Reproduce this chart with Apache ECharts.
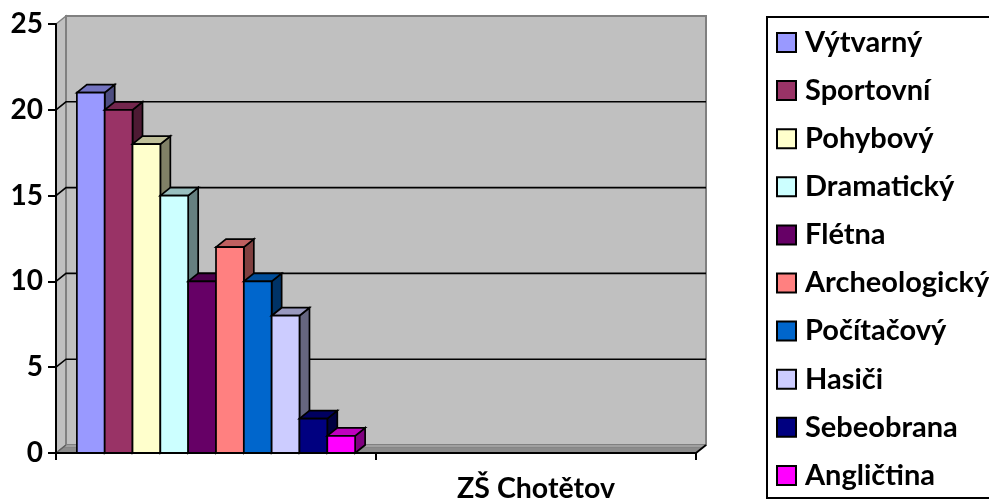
<!DOCTYPE html>
<html><head><meta charset="utf-8">
<style>html,body{margin:0;padding:0;background:#fff}#c{width:989px;height:500px}</style>
<script src="https://cdn.jsdelivr.net/npm/echarts@6/dist/echarts.min.js"></script>
</head><body><div id="c"></div>
<script>
const categories = ['', 'ZŠ Chotětov'];
const seriesNames = ['Výtvarný','Sportovní','Pohybový','Dramatický','Flétna','Archeologický','Počítačový','Hasiči','Sebeobrana','Angličtina'];
const seriesValues = [21,20,18,15,10,12,10,8,2,1];
const seriesColors = ['#9999FF','#993366','#FFFFCC','#CCFFFF','#660066','#FF8080','#0066CC','#CCCCFF','#000080','#FF00FF'];
const yTicks = [0,5,10,15,20,25];
const DX = 10, DY = -8, FONT = 'Lato';

function shade(hex, f){
  const n = parseInt(hex.slice(1),16);
  const c = [(n>>16)&255,(n>>8)&255,n&255].map(v=>Math.round(v*f));
  return 'rgb('+c.join(',')+')';
}
function poly(points, fill, stroke, lw){
  return {type:'polygon', shape:{points}, style:{fill, stroke, lineWidth:lw, lineJoin:'miter'}};
}
function wallItem(params, api){
  const cs = params.coordSys;
  const x0 = cs.x, x1 = cs.x + cs.width;
  const yb = cs.y + cs.height, yt = cs.y;
  const children = [
    poly([[x0,yb],[x0+DX,yb+DY],[x0+DX,yt+DY],[x0,yt]], '#C0C0C0', '#808080', 1.5),
    poly([[x0+DX,yb+DY],[x1+DX,yb+DY],[x1+DX,yt+DY],[x0+DX,yt+DY]], '#C0C0C0', '#808080', 2),
    poly([[x0,yb],[x1,yb],[x1+DX,yb+DY],[x0+DX,yb+DY]], '#8C8C8C', '#808080', 1),
    poly([[x0+DX-2,yb+DY+2],[x1+DX-2,yb+DY+2],[x1+DX,yb+DY],[x0+DX,yb+DY]], '#C0C0C0', '#808080', 1)
  ];
  yTicks.forEach(t=>{
    if(t===0||t===25) return;
    const y = api.coord([0,t])[1];
    children.push({type:'polyline', shape:{points:[[x0,y],[x0+DX,y+DY],[x1+DX,y+DY]]}, style:{fill:null, stroke:'#000', lineWidth:1.6}});
  });
  children.push({type:'line', shape:{x1:x1,y1:yb,x2:x1+DX,y2:yb+DY}, style:{stroke:'#000',lineWidth:1.8}});
  children.push({type:'line', shape:{x1:x0,y1:yb,x2:x0+DX,y2:yb+DY}, style:{stroke:'#606060',lineWidth:1.5}});
  return {type:'group', children};
}
function barItem(idx){
  return function(params, api){
    const v = api.value(1);
    if(v==null||isNaN(v)) return null;
    const center = api.coord([api.value(0),0]);
    const top = api.coord([api.value(0),v]);
    const band = api.size([1,0])[0];
    const w = band/11.5;
    const xl = center[0] - 5*w + idx*w;
    const xr = xl + w;
    const yb = center[1], yt = top[1];
    const col = seriesColors[idx];
    const lw = 1.7;
    return {type:'group', children:[
      poly([[xr,yb],[xr+DX,yb+DY],[xr+DX,yt+DY],[xr,yt]], shade(col,0.5), '#000', lw),
      poly([[xl,yt],[xr,yt],[xr+DX,yt+DY],[xl+DX,yt+DY]], shade(col,0.75), '#000', lw),
      poly([[xl,yb],[xr,yb],[xr,yt],[xl,yt]], col, '#000', lw)
    ]};
  };
}
const series = [{
  name:'walls', type:'custom', silent:true, z:1,
  data:[[0,0]], renderItem:wallItem
}];
seriesNames.forEach((name,i)=>{
  series.push({
    name, type:'custom', z:3+i, silent:true,
    itemStyle:{color:seriesColors[i], borderColor:'#000', borderWidth:2},
    encode:{x:0,y:1},
    data:[[0,seriesValues[i]]],
    renderItem:barItem(i)
  });
});
const chart = echarts.init(document.getElementById('c'), null, {renderer:'canvas'});
chart.setOption({
  animation:false,
  backgroundColor:'#fff',
  textStyle:{fontFamily:FONT},
  grid:{left:56, right:293, top:24, bottom:47, containLabel:false, outerBoundsMode:'none'},
  xAxis:{type:'category', data:categories, z:20,
    axisLine:{onZero:false,lineStyle:{color:'#000',width:2}},
    axisTick:{show:true,length:7,alignWithLabel:false,interval:0,lineStyle:{color:'#000',width:2}},
    axisLabel:{interval:0, margin:21, color:'#000', fontFamily:FONT, fontWeight:'bold', fontSize:28.5},
    splitLine:{show:false}},
  yAxis:{type:'value', min:0, max:25, interval:5, z:20,
    axisLine:{show:true,lineStyle:{color:'#000',width:2}},
    axisTick:{show:true,length:8,lineStyle:{color:'#000',width:2}},
    axisLabel:{margin:13, color:'#000', fontFamily:FONT, fontWeight:'bold', fontSize:28},
    splitLine:{show:false}},
  legend:{
    orient:'vertical', left:767, top:17, width:300,
    data:seriesNames, selectedMode:false,
    padding:[11,60,8,9], itemGap:19.1, itemWidth:19, itemHeight:19,
    borderColor:'#000', borderWidth:2, backgroundColor:'#fff',
    icon:'rect', inactiveColor:'#000',
    itemStyle:{borderColor:'#000',borderWidth:2},
    textStyle:{color:'#000', fontFamily:FONT, fontWeight:'bold', fontSize:29, lineHeight:29, padding:[0,0,0,4]}
  },
  series
});
</script></body></html>
